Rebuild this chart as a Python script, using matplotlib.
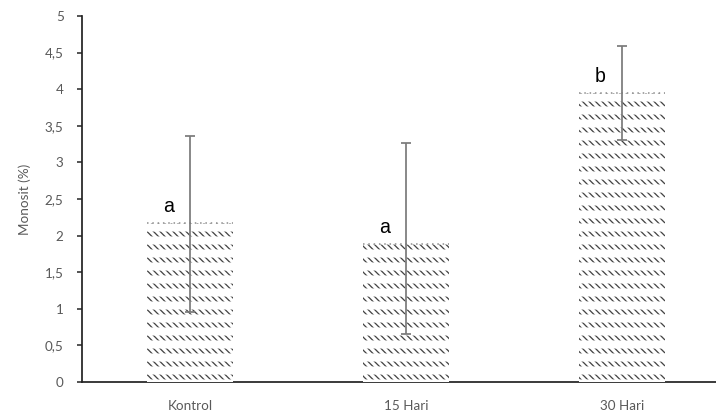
import numpy as np
import matplotlib
matplotlib.use('Agg')
import matplotlib.pyplot as plt

# data
groups = ['Kontrol', '15 Hari', '30 Hari']
mean_vals = [2.17, 1.88, 3.95]
err_low = [1.21, 1.22, 0.64]
err_high = [1.19, 1.39, 0.64]
letters = ['a', 'a', 'b']
yticks = [0, 0.5, 1, 1.5, 2, 2.5, 3, 3.5, 4, 4.5, 5]
ytick_labels = ['0', '0,5', '1', '1,5', '2', '2,5', '3', '3,5', '4', '4,5', '5']

DPI = 78
fig = plt.figure(figsize=(716 / DPI, 417 / DPI), dpi=DPI)
ax = fig.add_axes([82 / 716, 1 - 382 / 417, 1 - 82 / 716, (382 - 16) / 417])

x = np.arange(len(groups))
width = 0.40
hatch_col = '#454545'
axis_col = '#595959'
BS = chr(92)  # backslash, for the diagonal hatch

# diagonal dashes: a dense diagonal hatch cut into rows by white stripes
with plt.rc_context({'hatch.linewidth': 1.2}):
    ax.bar(x, mean_vals, width, color='white', edgecolor=hatch_col,
           hatch=BS * 4, linewidth=0, zorder=2)
with plt.rc_context({'hatch.linewidth': 7.5}):
    ax.bar(x, mean_vals, width, color='none', edgecolor='white',
           hatch='-', linewidth=0, zorder=3)

# dotted top edge of bars
ax.hlines(mean_vals, x - width / 2, x + width / 2, colors='#8c8c8c',
          linestyles=(0, (1, 2.5)), linewidth=1.4, zorder=4)

ax.errorbar(x, mean_vals, yerr=[err_low, err_high], fmt='none',
            ecolor='#7a7a7a', elinewidth=1.6, capsize=5, capthick=1.6, zorder=5)

for xi, yi, lab in zip(x, mean_vals, letters):
    ax.text(xi - 0.10, yi + 0.15, lab, ha='center', va='baseline',
            fontsize=18, family='Liberation Sans', color='black', zorder=6)

ax.set_xlim(-0.5, 2.435)
ax.set_ylim(0, 5)
ax.set_yticks(yticks)
ax.set_yticklabels(ytick_labels)
ax.set_xticks(x)
ax.set_xticklabels(groups)
ax.tick_params(axis='x', length=0, pad=17, labelsize=12.5, labelcolor=axis_col)
ax.tick_params(axis='y', length=5, width=1.4, direction='out', pad=12,
               labelsize=12.5, labelcolor=axis_col, color='#222222')
for lab in ax.get_xticklabels() + ax.get_yticklabels():
    lab.set_family('Lato')

ax.set_ylabel('Monosit (%)', fontsize=12.5, color=axis_col, family='Lato')
ax.yaxis.set_label_coords(-51 / 634, 0.5)

for side in ['top', 'right']:
    ax.spines[side].set_visible(False)
for side in ['left', 'bottom']:
    ax.spines[side].set_linewidth(1.6)
    ax.spines[side].set_color('#222222')

fig.savefig('out.png', dpi=DPI)
